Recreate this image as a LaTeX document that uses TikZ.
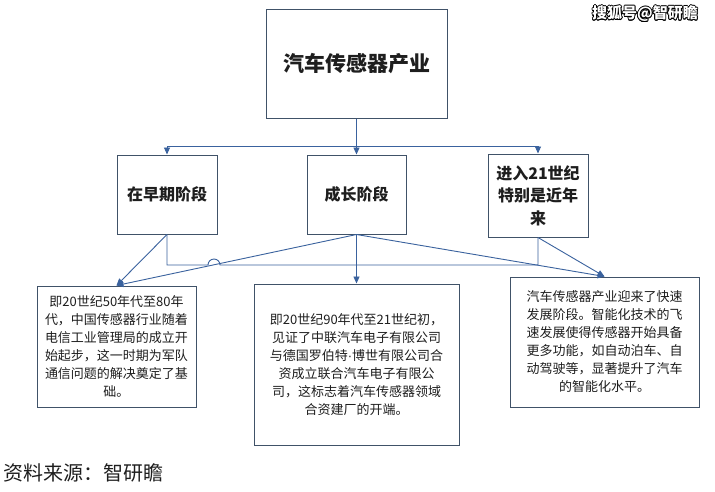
\documentclass[tikz,border=0pt]{standalone}
\usepackage{fontspec}
\usepackage[copies]{contour}
\usetikzlibrary{arrows.meta}
\newfontfamily\cjk{Noto Sans CJK SC}
\newfontfamily\latn{Liberation Sans}
\definecolor{boxc}{RGB}{64,82,104}
\definecolor{linec}{RGB}{58,98,158}
\definecolor{txt}{RGB}{30,30,30}
\contourlength{0.7pt}
\begin{document}
\begin{tikzpicture}[x=1pt,y=-1pt,
  box/.style={draw=boxc,line width=1pt,fill=white,inner sep=2pt,align=center,text=txt,font=\cjk},
  stage/.style={box,font=\cjk\bfseries\fontsize{16}{22.5}\selectfont},
  desc/.style={box,font=\cjk\fontsize{13}{18}\selectfont},
  conn/.style={draw=linec,line width=0.9pt},
  arr/.style={conn,-{Triangle[length=7pt,width=6pt]}}]
\fill[white] (0,0) rectangle (715,491);
\useasboundingbox (0,0) rectangle (715,491);

\node[box,minimum width=181pt,minimum height=109pt,font=\cjk\bfseries\fontsize{21}{26}\selectfont] (top) at (356.5,63.5) {汽车传感器产业};
\node[stage,minimum width=100pt,minimum height=79pt] (early) at (167,194.5) {在早期阶段};
\node[stage,minimum width=99pt,minimum height=79pt] (grow) at (356.5,194.5) {成长阶段};
\node[stage,minimum width=100pt,minimum height=83pt] (recent) at (538,195.5) {进入21世纪\\特别是近年\\来};

\node[desc,minimum width=159pt,minimum height=121pt] (b1) at (116.5,346.5) {即20世纪50年代至80年\\代，中国传感器行业随着\\电信工业管理局的成立开\\始起步，这一时期为军队\\通信问题的解决奠定了基\\础。};
\node[desc,minimum width=205pt,minimum height=161pt] (b2) at (356.5,364.5) {即20世纪90年代至21世纪初，\\见证了中联汽车电子有限公司\\与德国罗伯特{\latn ·}博世有限公司合\\资成立联合汽车电子有限公\\司，这标志着汽车传感器领域\\合资建厂的开端。};
\node[desc,minimum width=189pt,minimum height=130pt] (b3) at (604.5,342) {汽车传感器产业迎来了快速\\发展阶段。智能化技术的飞\\速发展使得传感器开始具备\\更多功能，如自动泊车、自\\动驾驶等，显著提升了汽车\\的智能化水平。};

\coordinate (bus) at (356.5,146);
\coordinate (ely) at (0,265);
\draw[arr] (top.south) -- (grow.north);
\draw[arr] (bus) -| (early.north);
\draw[arr] (bus) -| (recent.north);

\draw[conn] (early.south) -- (early.south |- ely) -- (208,265) arc[start angle=180,end angle=0,radius=6pt] -- (recent.south |- ely) -- (recent.south);

\draw[arr] (early.south) -- (b1.north);
\draw[arr] (grow.south) -- (b1.north);
\draw[arr] (grow.south) -- (b2.north);
\draw[arr] (grow.south) -- (b3.north);
\draw[arr] (recent.south) -- (b3.north);

\node[font=\cjk\bfseries\fontsize{15}{15}\selectfont,text=white,inner sep=0] (wm) at (645,14) {\contour{black}{搜狐号@智研瞻}};
\node[font=\cjk\fontsize{20}{24}\selectfont,anchor=west,text=txt,inner sep=0] (src) at (3,473) {资料来源：智研瞻};
\end{tikzpicture}
\end{document}
